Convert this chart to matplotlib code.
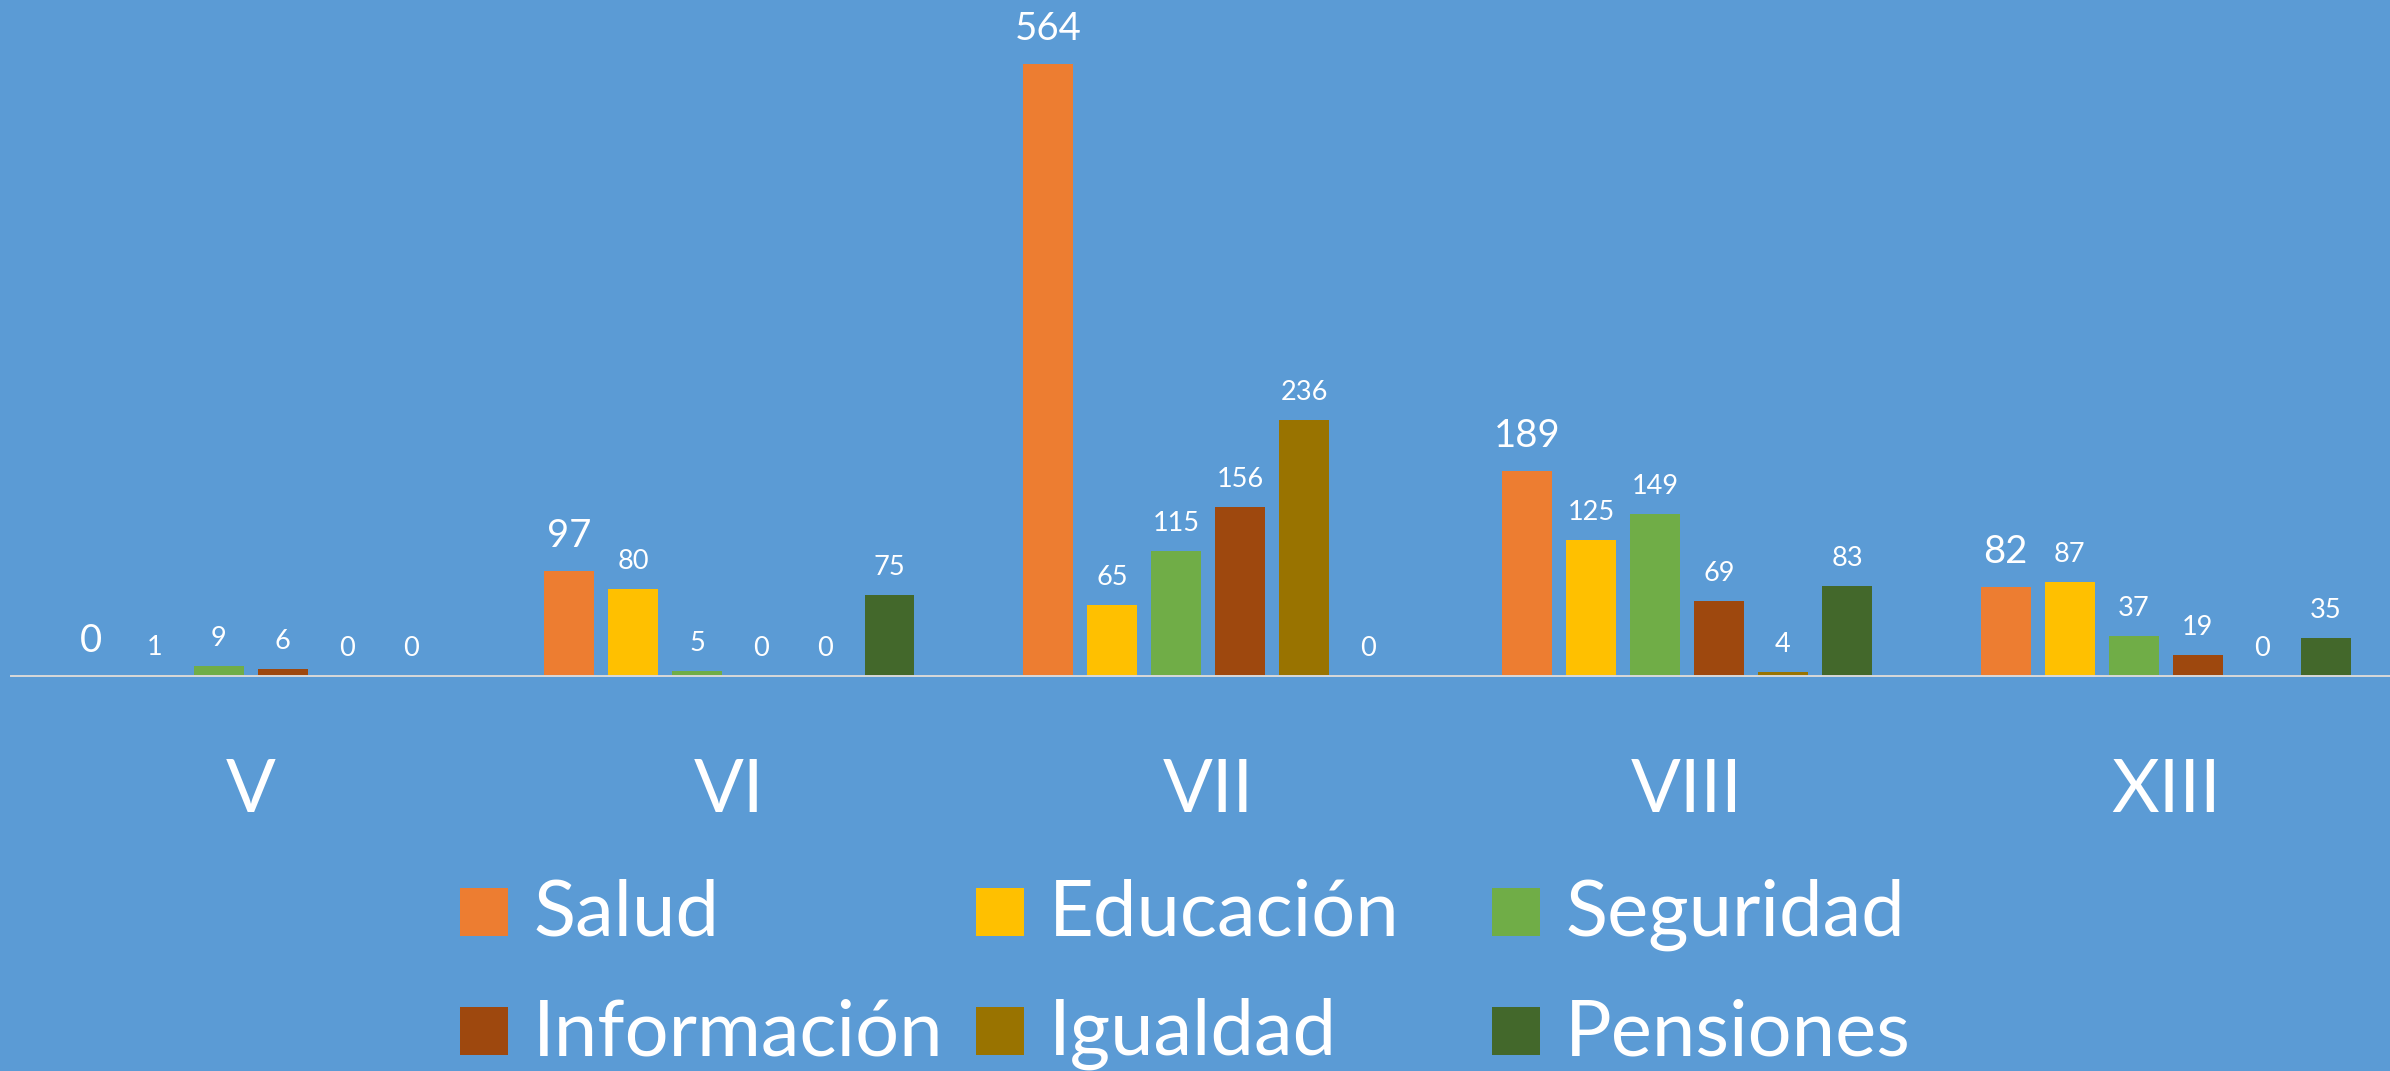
import numpy as np
import matplotlib
matplotlib.use("Agg")
import matplotlib.pyplot as plt
from matplotlib.patches import Rectangle
from matplotlib.transforms import blended_transform_factory

# regiones (categorias) y series
regions = ["V", "VI", "VII", "VIII", "XIII"]
series = ["Salud", "Educación", "Seguridad", "Información", "Igualdad", "Pensiones"]
salud = [0, 97, 564, 189, 82]
educacion = [1, 80, 65, 125, 87]
seguridad = [9, 5, 115, 149, 37]
informacion = [6, 0, 156, 69, 19]
igualdad = [0, 0, 236, 4, 0]
pensiones = [0, 75, 0, 83, 35]
values = [salud, educacion, seguridad, informacion, igualdad, pensiones]
colors = ["#ED7D31", "#FFC000", "#70AD47", "#9E480E", "#997300", "#43682B"]

BG = "#5B9BD5"
W, H = 2390, 1071
plt.rcParams["font.family"] = ["Lato", "DejaVu Sans"]

fig = plt.figure(figsize=(W/100, H/100), dpi=100, facecolor=BG)
ax = fig.add_axes([11.3/W, 1 - 676/H, 2393.9/W, 676/H])
ax.set_facecolor("none")

x = np.arange(len(regions))
pitch, bw = 0.1337, 0.1044
for i, (name, vals, c) in enumerate(zip(series, values, colors)):
    xs = x + (i - 2.5) * pitch
    ax.bar(xs, vals, width=bw, color=c, zorder=2)
    big = i == 0   # Salud labels are drawn larger
    for xi, v in zip(xs, vals):
        ax.annotate(str(v), (xi, v), textcoords="offset pixels", xytext=(0, 24 if big else 20),
                    ha="center", va="baseline", color="white", fontsize=27.5 if big else 19.5)

ax.set_xlim(-0.5, len(regions) - 0.5)
ax.set_ylim(0, 623)
for s in ("top", "left", "right"):
    ax.spines[s].set_visible(False)
ax.spines["bottom"].set_color("#D9D9D9"); ax.spines["bottom"].set_linewidth(1.4)
ax.spines["bottom"].set_zorder(3)
ax.set_xticks([]); ax.set_yticks([])

tr = blended_transform_factory(ax.transData, fig.transFigure)
for xi, r in zip(x, regions):
    ax.text(xi, 1 - 811.7/H, r, transform=tr, ha="center", va="baseline", color="white", fontsize=53)

# legend laid out as Excel does: 3 equal columns, row-major
for i, (name, c) in enumerate(zip(series, colors)):
    row, col = divmod(i, 3)
    left = 460 + col * 516
    bottom = 936 + row * 119
    fig.patches.append(Rectangle((left/W, 1 - bottom/H), 48/W, 48/H, transform=fig.transFigure,
                                 facecolor=c, edgecolor="none"))
    fig.text((left + 73)/W, 1 - bottom/H, name, ha="left", va="baseline", color="white", fontsize=56)

fig.savefig("out.png", dpi=100, facecolor=BG)
